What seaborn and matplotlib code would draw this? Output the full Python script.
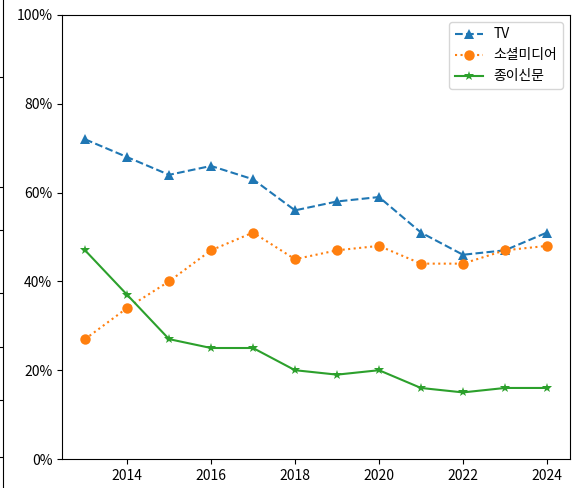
import matplotlib
matplotlib.use('Agg')
import matplotlib.pyplot as plt
from matplotlib.ticker import PercentFormatter
import seaborn as sns
import pandas as pd

plt.rcParams['font.family'] = ['Noto Sans CJK KR', 'DejaVu Sans']

years = [2013, 2014, 2015, 2016, 2017, 2018, 2019, 2020, 2021, 2022, 2023, 2024]
tv = [0.72, 0.68, 0.64, 0.66, 0.63, 0.56, 0.58, 0.59, 0.51, 0.46, 0.47, 0.51]
social = [0.27, 0.34, 0.40, 0.47, 0.51, 0.45, 0.47, 0.48, 0.44, 0.44, 0.47, 0.48]
paper = [0.47, 0.37, 0.27, 0.25, 0.25, 0.20, 0.19, 0.20, 0.16, 0.15, 0.16, 0.16]
labels = ['TV', '소셜미디어', '종이신문']

df = pd.DataFrame({'year': years, labels[0]: tv, labels[1]: social, labels[2]: paper})

fig = plt.figure(figsize=(5.76, 4.88), dpi=100)
ax = fig.add_axes([0.1076, 0.0594, 0.882, 0.9099])

colors = sns.color_palette('tab10')
styles = [('--', '^'), (':', 'o'), ('-', '*')]
for i, name in enumerate(labels):
    ls, mk = styles[i]
    sns.lineplot(data=df, x='year', y=name, ax=ax, color=colors[i], linestyle=ls,
                 marker=mk, markersize=7.5, markeredgewidth=0, label=name)

ax.set_ylim(0, 1)
ax.yaxis.set_major_formatter(PercentFormatter(1, decimals=0))
ax.set_xlabel('')
ax.set_ylabel('')
ax.set_xticks([2014, 2016, 2018, 2020, 2022, 2024])
ax.legend(loc='upper right')

# leftover edge of a neighbouring panel in the screenshot
edge = fig.add_axes([-0.5, 0.0, 0.5 + 3 / 576, 1.0])
edge.set_ylim(488, 0)
for s in ['top', 'bottom', 'left']:
    edge.spines[s].set_visible(False)
edge.set_xticks([])
edge.set_yticks([77, 187, 230, 293, 347, 400, 457])
edge.yaxis.set_ticks_position('right')
edge.tick_params(axis='y', which='both', direction='in', length=3,
                 right=True, left=False, labelright=False, labelleft=False)
edge.patch.set_alpha(0)

fig.savefig('out.png', dpi=100)
